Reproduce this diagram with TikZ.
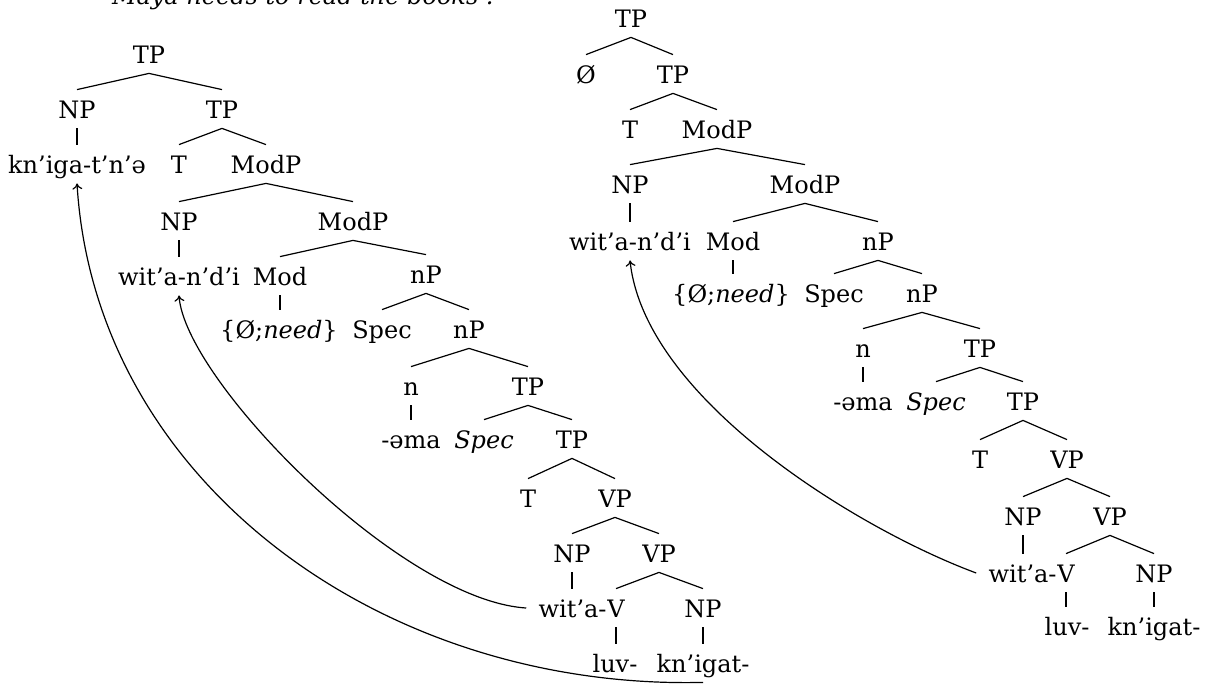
\documentclass[tikz,border=0pt]{standalone}
\usepackage{fontspec}
\setmainfont{DejaVu Serif}
\usetikzlibrary{arrows.meta}
\newcommand\treefont{\fontsize{12pt}{14pt}\selectfont}
\begin{document}
\begin{tikzpicture}[x=0.5pt,y=-0.5pt,
  lab/.style={anchor=base, inner xsep=6pt, inner ysep=5pt, text height=9pt, text depth=0pt, font=\treefont},
  br/.style={line width=0.6pt},
  mv/.style={line width=0.6pt, -{To[length=3pt,width=5pt]}}]
\path[use as bounding box] (0,0) rectangle (1208,686);

% gloss line (partly above the page)
\node[anchor=base west, inner sep=0pt, font=\treefont\itshape] (gloss) at (104,4) {‘Maya needs to read the books’.};

% ---------- left tree ----------
\node[lab] (lTP) at (149,63) {TP};
\node[lab] (lNP) at (77,118) {NP};
\node[lab] (lTP2) at (222,118) {TP};
\node[lab] (lKn) at (77,173) {kn’iga-t’n’ə};
\node[lab] (lT) at (179,173) {T};
\node[lab] (lModP) at (266,173) {ModP};
\node[lab] (lNP2) at (179,230) {NP};
\node[lab] (lModP2) at (353,230) {ModP};
\node[lab] (lSubj) at (179,285) {wit’a-n’d’i};
\node[lab] (lMod) at (280,285) {Mod};
\node[lab] (lnP) at (426,283) {nP};
\node[lab] (lNeed) at (279,338) {\{Ø;\textit{need}\}};
\node[lab] (lSpec) at (382,338) {Spec};
\node[lab] (lnP2) at (469,338) {nP};
\node[lab] (ln) at (411,395) {n};
\node[lab] (lTP3) at (528,395) {TP};
\node[lab] (lAma) at (411,448) {-əma};
\node[lab] (lSpecT) at (484,448) {\textit{Spec}};
\node[lab] (lTP4) at (572,448) {TP};
\node[lab] (lT2) at (528,507) {T};
\node[lab] (lVP) at (615,507) {VP};
\node[lab] (lNP3) at (572,562) {NP};
\node[lab] (lVP2) at (659,562) {VP};
\node[lab] (lV) at (616,617) {V};
\node[lab, anchor=base east] (lWit) at ([xshift=12pt]lV.base west) {wit’a-};
\node[lab] (lNP4) at (703,617) {NP};
\node[lab] (lLuv) at (615,672) {luv-};
\node[lab] (lBook) at (703,672) {kn’igat-};

% branching edges
\foreach \p/\c in {lTP/lNP, lTP/lTP2, lTP2/lT, lTP2/lModP, lModP/lNP2, lModP/lModP2,
  lModP2/lMod, lModP2/lnP, lnP/lSpec, lnP/lnP2, lnP2/ln, lnP2/lTP3,
  lTP3/lSpecT, lTP3/lTP4, lTP4/lT2, lTP4/lVP, lVP/lNP3, lVP/lVP2,
  lVP2/lV, lVP2/lNP4}
  \draw[br] (\p.south) -- (\c.north);
% unary edges
\foreach \p/\c in {lNP/lKn, lNP2/lSubj, lMod/lNeed, ln/lAma, lNP3/lWit, lV/lLuv, lNP4/lBook}
  \draw[br] (\p.south) -- (\p.south |- \c.north);

% ---------- right tree ----------
\node[lab] (rTP) at (631,27) {TP};
\node[lab] (rNull) at (586,83) {Ø};
\node[lab] (rTP2) at (673,83) {TP};
\node[lab] (rT) at (630,138) {T};
\node[lab] (rModP) at (717,138) {ModP};
\node[lab] (rNP) at (630,193) {NP};
\node[lab] (rModP2) at (805,193) {ModP};
\node[lab] (rSubj) at (630,250) {wit’a-n’d’i};
\node[lab] (rMod) at (733,250) {Mod};
\node[lab] (rnP) at (878,250) {nP};
\node[lab] (rNeed) at (731,302) {\{Ø;\textit{need}\}};
\node[lab] (rSpec) at (834,302) {Spec};
\node[lab] (rnP2) at (922,302) {nP};
\node[lab] (rn) at (863,357) {n};
\node[lab] (rTP3) at (980,357) {TP};
\node[lab] (rAma) at (863,410) {-əma};
\node[lab] (rSpecT) at (936,410) {\textit{Spec}};
\node[lab] (rTP4) at (1023,410) {TP};
\node[lab] (rT2) at (980,468) {T};
\node[lab] (rVP) at (1067,468) {VP};
\node[lab] (rNP2) at (1023,525) {NP};
\node[lab] (rVP2) at (1110,525) {VP};
\node[lab] (rV) at (1066,582) {V};
\node[lab, anchor=base east] (rWit) at ([xshift=12pt]rV.base west) {wit’a-};
\node[lab] (rNP3) at (1154,582) {NP};
\node[lab] (rLuv) at (1067,635) {luv-};
\node[lab] (rBook) at (1154,635) {kn’igat-};

% branching edges
\foreach \p/\c in {rTP/rNull, rTP/rTP2, rTP2/rT, rTP2/rModP, rModP/rNP, rModP/rModP2,
  rModP2/rMod, rModP2/rnP, rnP/rSpec, rnP/rnP2, rnP2/rn, rnP2/rTP3,
  rTP3/rSpecT, rTP3/rTP4, rTP4/rT2, rTP4/rVP, rVP/rNP2, rVP/rVP2,
  rVP2/rV, rVP2/rNP3}
  \draw[br] (\p.south) -- (\c.north);
% unary edges
\foreach \p/\c in {rNP/rSubj, rMod/rNeed, rn/rAma, rNP2/rWit, rV/rLuv, rNP3/rBook}
  \draw[br] (\p.south) -- (\p.south |- \c.north);

% ---------- movement arrows ----------
\draw[mv] (lWit.west) .. controls (400,600) and (185,380) .. (lSubj.south);
\draw[mv] (lBook.south) .. controls (380,690) and (95,480) .. (lKn.south);
\draw[mv] (rWit.west) .. controls (860,530) and (645,400) .. (rSubj.south);
\end{tikzpicture}
\end{document}
